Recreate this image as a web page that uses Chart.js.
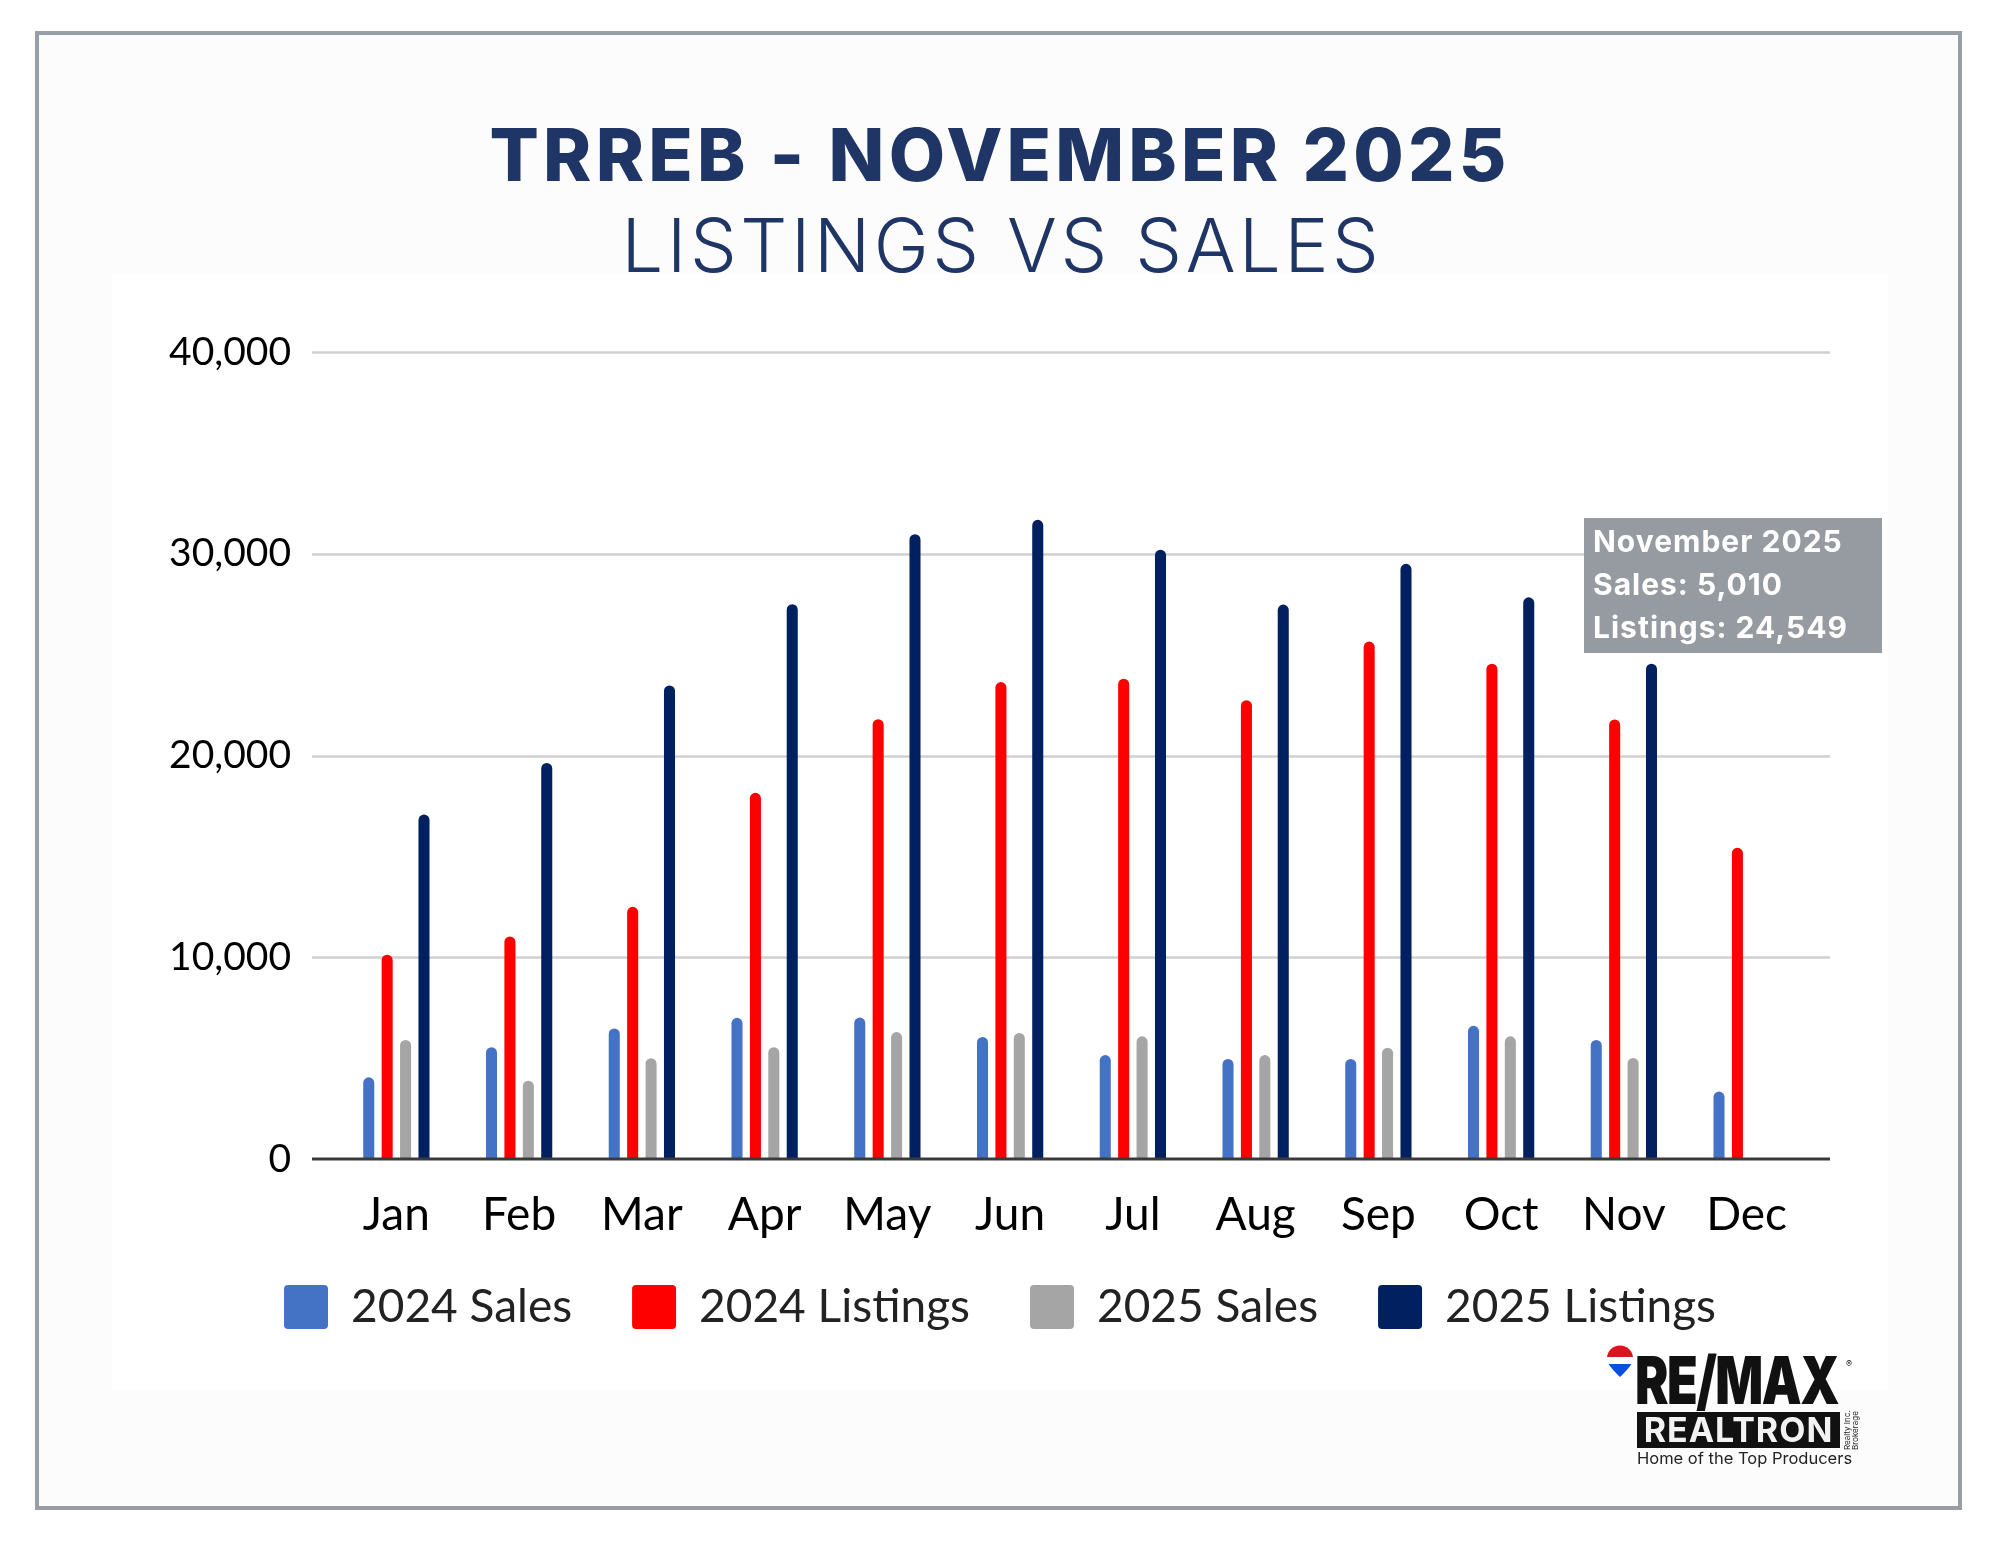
<!DOCTYPE html>
<html>
<head>
<meta charset="utf-8">
<script src="https://cdn.jsdelivr.net/npm/chart.js@4.4.1/dist/chart.umd.min.js"></script>
<style>
  html, body { margin: 0; padding: 0; background: #ffffff; }
  #wrap { position: relative; width: 2000px; height: 1545px; overflow: hidden; background: #ffffff; }
  #frame { position: absolute; left: 35px; top: 31px; width: 1919px; height: 1471px; border: 4px solid #979ea5; background: #fcfcfc; }
  #inner { position: absolute; left: 112px; top: 274px; width: 1776px; height: 1116px; background: #ffffff; }
  .ttl { position: absolute; left: 0; width: 2000px; text-align: center; color: #1e3566; font-family: Inter, "Noto Sans", sans-serif; white-space: nowrap; box-sizing: border-box; }
  #t1 { top: 118px; font-size: 73px; line-height: 73px; font-weight: 800; letter-spacing: 4.2px; padding-left: 0px; }
  #t2 { top: 208px; font-size: 74px; line-height: 74px; font-weight: 300; letter-spacing: 3.6px; padding-left: 4px; }
  #chart { position: absolute; left: 0; top: 0; }
  .logo { position: absolute; font-family: Inter, "Noto Sans", sans-serif; white-space: nowrap; }
  #remax { left: 1635px; top: 1347px; font-size: 66px; line-height: 66px; font-weight: 900; color: #111; transform: scaleX(0.76); transform-origin: left top; letter-spacing: -2px; }
  #reg { left: 1846px; top: 1358px; font-size: 9px; color: #111; }
  #realtron { left: 1637px; top: 1412px; width: 203px; height: 36px; background: #111; color: #f2f2f2; font-size: 34px; line-height: 36px; font-weight: 700; text-align: center; letter-spacing: 1px; }
  #brok { left: 1843px; top: 1450px; font-size: 8px; line-height: 8px; color: #222; transform: rotate(-90deg); transform-origin: left top; }
  #home { left: 1637px; top: 1448px; font-size: 16.5px; line-height: 20px; color: #222; }
  #balloon { left: 1606px; top: 1345px; }
</style>
</head>
<body>
<div id="wrap">
  <div id="frame"></div>
  <div id="inner"></div>
  <div class="ttl" id="t1">TRREB - NOVEMBER 2025</div>
  <div class="ttl" id="t2">LISTINGS VS SALES</div>
  <canvas id="chart" width="2000" height="1545"></canvas>
  <svg class="logo" id="balloon" width="28" height="33" viewBox="0 0 28 33">
    <defs>
      <linearGradient id="bg" x1="0" y1="0" x2="0" y2="1">
        <stop offset="0" stop-color="#d9161f"/>
        <stop offset="0.38" stop-color="#d9161f"/>
        <stop offset="0.38" stop-color="#ffffff"/>
        <stop offset="0.58" stop-color="#ffffff"/>
        <stop offset="0.58" stop-color="#0b4fe0"/>
        <stop offset="1" stop-color="#0b4fe0"/>
      </linearGradient>
    </defs>
    <path d="M14 32 C 6 24, 1 19, 1 13 A 13 12.5 0 0 1 27 13 C 27 19, 22 24, 14 32 Z" fill="url(#bg)"/>
  </svg>
  <div class="logo" id="remax">RE/MAX</div>
  <div class="logo" id="reg">®</div>
  <div class="logo" id="realtron">REALTRON</div>
  <div class="logo" id="brok">Realty Inc.<br>Brokerage</div>
  <div class="logo" id="home">Home of the Top Producers</div>
</div>
<script>
// ---- data ----
const months = ['Jan', 'Feb', 'Mar', 'Apr', 'May', 'Jun', 'Jul', 'Aug', 'Sep', 'Oct', 'Nov', 'Dec'];
const sales2024 = [4050, 5540, 6470, 7000, 7010, 6050, 5150, 4960, 4960, 6600, 5900, 3340];
const listings2024 = [10130, 11030, 12500, 18150, 21800, 23640, 23810, 22740, 25650, 24550, 21790, 15430];
const sales2025 = [5900, 3880, 5000, 5540, 6290, 6250, 6080, 5150, 5520, 6080, 5010, null];
const listings2025 = [17070, 19630, 23470, 27500, 30970, 31680, 30200, 27480, 29500, 27840, 24549, null];
const seriesNames = ['2024 Sales', '2024 Listings', '2025 Sales', '2025 Listings'];
const seriesColors = ['#4472c4', '#ff0000', '#a5a5a5', '#002060'];
const yTicks = [0, 10000, 20000, 30000, 40000];
const calloutIndex = 10;
const calloutTitle = 'November 2025';

const fmt = v => v.toLocaleString('en-US');

const gridPlugin = {
  id: 'extgrid',
  afterLayout(chart) {
    // centre the legend on the page and place it just below the month labels
    const lg = chart.legend;
    if (lg) {
      const h = lg.bottom - lg.top;
      lg.left = 0; lg.right = chart.width;
      lg.top = chart.chartArea.bottom + 65; lg.bottom = lg.top + h;
    }
  },
  beforeDatasetsDraw(chart) {
    const { ctx, chartArea, scales: { y } } = chart;
    ctx.save();
    ctx.strokeStyle = '#d0d0d0';
    ctx.lineWidth = 2.5;
    y.ticks.forEach(t => {
      if (t.value === 0) return;
      const py = Math.round(y.getPixelForValue(t.value)) + 0.5;
      ctx.beginPath();
      ctx.moveTo(chartArea.left - 23, py);
      ctx.lineTo(chartArea.right + 22, py);
      ctx.stroke();
    });
    ctx.restore();
  },
  afterDatasetsDraw(chart) {
    const { ctx, chartArea, scales: { y } } = chart;
    const py = y.getPixelForValue(0);
    ctx.save();
    ctx.strokeStyle = '#3a3a3a';
    ctx.lineWidth = 3;
    ctx.beginPath();
    ctx.moveTo(chartArea.left - 23, py);
    ctx.lineTo(chartArea.right + 22, py);
    ctx.stroke();
    ctx.restore();
  }
};

const calloutPlugin = {
  id: 'callout',
  afterDraw(chart) {
    const { ctx, chartArea } = chart;
    const left = chartArea.right - 224;
    const top = chartArea.top + 166;
    ctx.save();
    ctx.fillStyle = '#969ba1';
    ctx.fillRect(left, top, 298, 135);
    ctx.fillStyle = '#ffffff';
    ctx.font = '700 30px Inter, "Noto Sans", sans-serif';
    try { ctx.letterSpacing = '1px'; } catch (e) {}
    ctx.textBaseline = 'alphabetic';
    ctx.textAlign = 'left';
    const lines = [
      calloutTitle,
      'Sales: ' + fmt(sales2025[calloutIndex]),
      'Listings: ' + fmt(listings2025[calloutIndex])
    ];
    lines.forEach((s, i) => ctx.fillText(s, left + 9, top + 34 + i * 43));
    ctx.restore();
  }
};

const datasets = [sales2024, listings2024, sales2025, listings2025].map((d, i) => ({
  label: seriesNames[i],
  data: d,
  backgroundColor: seriesColors[i],
  borderRadius: 6,
  borderSkipped: 'start',
  categoryPercentage: 0.6,
  barPercentage: 0.6
}));

new Chart(document.getElementById('chart'), {
  type: 'bar',
  data: { labels: months, datasets },
  options: {
    responsive: false,
    animation: false,
    devicePixelRatio: 1,
    layout: { padding: { top: 352, left: 60, right: 192, bottom: 170 } },
    scales: {
      x: {
        grid: { display: false, drawTicks: false },
        border: { display: false },
        ticks: { padding: 29, color: '#000', font: { family: 'Lato', size: 46 } },
        afterFit(s) { s.height = 100; }
      },
      y: {
        min: 0,
        max: 40000,
        afterBuildTicks(s) { s.ticks = yTicks.map(v => ({ value: v })); },
        ticks: { padding: 44, color: '#000', font: { family: 'Lato', size: 39 }, callback: v => fmt(v) },
        grid: { display: false, drawTicks: false },
        border: { display: false },
        afterFit(s) { s.width = 275; }
      }
    },
    plugins: {
      legend: {
        position: 'bottom',
        labels: {
          boxWidth: 44, boxHeight: 44, padding: 60,
          color: '#222', font: { family: 'Lato', size: 46 },
          useBorderRadius: true, borderRadius: 4
        }
      },
      tooltip: { enabled: false },
      title: { display: false }
    }
  },
  plugins: [gridPlugin, calloutPlugin]
});
</script>
</body>
</html>
